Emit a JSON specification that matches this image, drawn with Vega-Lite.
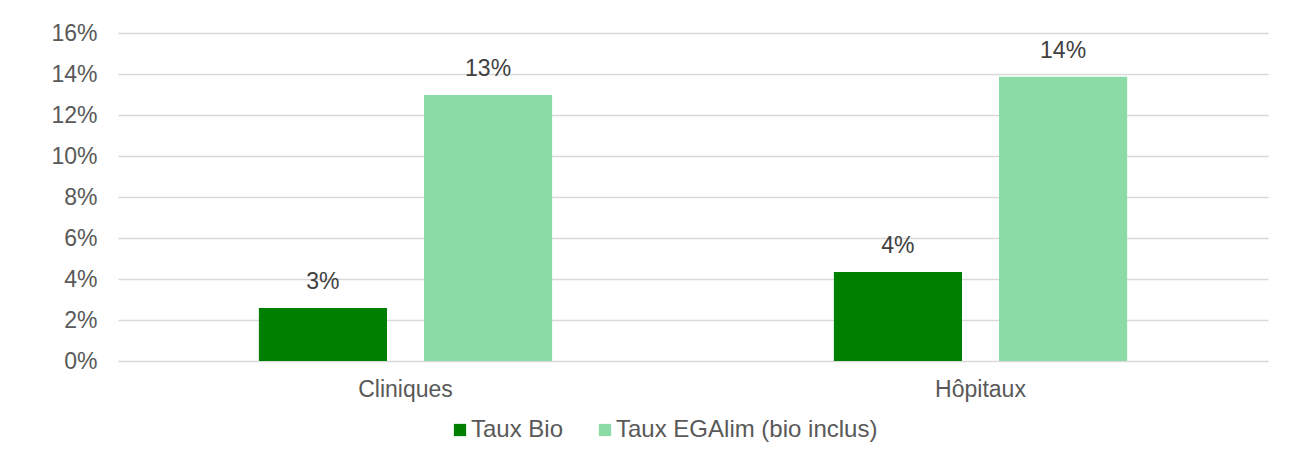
{
  "$schema": "https://vega.github.io/schema/vega-lite/v6.json",
  "autosize": "none",
  "width": 1150,
  "height": 328,
  "padding": {"left": 118, "top": 33, "right": 34, "bottom": 98},
  "background": "white",
  "config": {
    "font": "Liberation Sans",
    "view": {"stroke": null},
    "axis": {"labelFont": "Liberation Sans", "labelColor": "#595959", "labelFontSize": 23, "titleFontSize": 22}
  },
  "data": {
    "values": [
      {"type": "Cliniques", "serie": "Taux Bio", "value": 0.0259},
      {"type": "Cliniques", "serie": "Taux EGAlim (bio inclus)", "value": 0.1298},
      {"type": "Hôpitaux", "serie": "Taux Bio", "value": 0.0434},
      {"type": "Hôpitaux", "serie": "Taux EGAlim (bio inclus)", "value": 0.1387}
    ]
  },
  "encoding": {
    "x": {
      "field": "type", "type": "nominal", "title": null, "sort": ["Cliniques", "Hôpitaux"],
      "scale": {"paddingInner": 0.49, "paddingOuter": 0.245},
      "axis": {"labelAngle": 0, "ticks": false, "domain": false, "labelPadding": 17, "grid": false}
    },
    "xOffset": {"field": "serie", "type": "nominal", "sort": ["Taux Bio", "Taux EGAlim (bio inclus)"], "scale": {"paddingInner": 0.224, "paddingOuter": 0}},
    "y": {
      "field": "value", "type": "quantitative", "title": null,
      "scale": {"domain": [0, 0.16], "nice": false},
      "axis": {"format": ".0%", "values": [0, 0.02, 0.04, 0.06, 0.08, 0.1, 0.12, 0.14, 0.16], "ticks": false, "domain": false, "labelPadding": 21, "gridColor": "#d9d9d9", "gridWidth": 1.5}
    }
  },
  "layer": [
    {
      "mark": {"type": "bar"},
      "encoding": {
        "color": {
          "field": "serie", "type": "nominal",
          "scale": {"domain": ["Taux Bio", "Taux EGAlim (bio inclus)"], "range": ["#008000", "#8ADBA5"]},
          "legend": {
            "title": null, "orient": "none", "direction": "horizontal",
            "legendX": 330, "legendY": 385,
            "symbolType": "square", "symbolSize": 150, "symbolStrokeWidth": 0, "symbolOpacity": 1,
            "labelFontSize": 24, "labelColor": "#595959", "labelFont": "Liberation Sans", "labelLimit": 0,
            "columnPadding": 29, "labelOffset": -1
          }
        }
      }
    },
    {
      "mark": {"type": "text", "baseline": "bottom", "dy": -14, "fontSize": 23, "color": "#404040", "font": "Liberation Sans"},
      "encoding": {
        "text": {"field": "value", "type": "quantitative", "format": ".0%"}
      }
    }
  ]
}
